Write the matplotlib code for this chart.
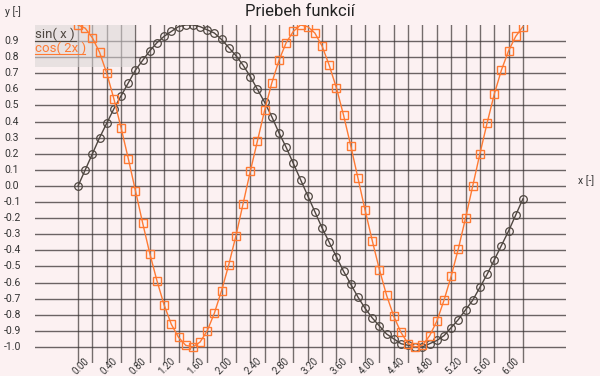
import matplotlib.pyplot as plt
from matplotlib.transforms import blended_transform_factory
from matplotlib.lines import Line2D

# Data: x = 0.0 .. 6.2 step 0.1
x = [round(0.1 * i, 1) for i in range(63)]
sin_x = [0.00, 0.10, 0.20, 0.30, 0.39, 0.48, 0.56, 0.64, 0.72, 0.78,
         0.84, 0.89, 0.93, 0.96, 0.99, 1.00, 1.00, 0.99, 0.97, 0.95,
         0.91, 0.86, 0.81, 0.75, 0.68, 0.60, 0.52, 0.43, 0.33, 0.24,
         0.14, 0.04, -0.06, -0.16, -0.26, -0.35, -0.44, -0.53, -0.61, -0.69,
         -0.76, -0.82, -0.87, -0.92, -0.95, -0.98, -0.99, -1.00, -1.00, -0.98,
         -0.96, -0.93, -0.88, -0.83, -0.77, -0.71, -0.63, -0.55, -0.46, -0.37,
         -0.28, -0.18, -0.08]
cos_2x = [1.00, 0.98, 0.92, 0.83, 0.70, 0.54, 0.36, 0.17, -0.03, -0.23,
          -0.42, -0.59, -0.74, -0.86, -0.94, -0.99, -1.00, -0.97, -0.90, -0.79,
          -0.65, -0.49, -0.31, -0.11, 0.09, 0.28, 0.47, 0.64, 0.78, 0.89,
          0.96, 1.00, 0.99, 0.95, 0.87, 0.75, 0.61, 0.44, 0.25, 0.05,
          -0.15, -0.34, -0.52, -0.68, -0.81, -0.91, -0.98, -1.00, -0.99, -0.93,
          -0.84, -0.71, -0.56, -0.39, -0.20, 0.00, 0.20, 0.39, 0.57, 0.72,
          0.84, 0.93, 0.99]

x_grid = [round(0.2 * i, 1) for i in range(32)]
x_labels = [round(0.4 * i, 1) for i in range(16)]
y_ticks = [round(-1.0 + 0.1 * i, 1) for i in range(20)]

bg = "#fcf1f2"
sin_col = "#4f4741"
cos_col = "#ff7a33"
plt.rcParams["font.family"] = ["Roboto", "DejaVu Sans"]

fig = plt.figure(figsize=(6, 3.76), dpi=100, facecolor=bg)
ax = fig.add_axes([35 / 600, 13 / 376, 531 / 600, 338 / 376])
ax.set_facecolor(bg)
ax.set_xlim(-0.6, 6.8)
ax.set_ylim(-1.1, 1.0)
for s in ax.spines.values():
    s.set_visible(False)
ax.set_xticks([])
ax.set_yticks([])

# grid
for xv in x_grid:
    ax.axvline(xv, color="#3a3434", lw=1.0, alpha=0.7, zorder=1)
for yv in y_ticks:
    ax.axhline(yv, color="#3a3434", lw=1.0, alpha=0.75, zorder=1)

# y tick labels, left aligned at the figure edge
ytrans = blended_transform_factory(fig.transFigure, ax.transData)
for yv in y_ticks:
    ax.text(4 / 600, yv, "%.1f" % yv, transform=ytrans, fontsize=7.5,
            color="#333333", ha="left", va="center")

# x tick labels, rotated
for xv in x_labels:
    ax.text(xv + 0.08, -1.055, "%.2f" % xv, fontsize=7, color="#333333",
            rotation=45, ha="right", va="top", rotation_mode="anchor")

# legend shading
ax.axvspan(-0.6, 0.8, ymin=(0.74 + 1.1) / 2.1, ymax=1.0, color="#d8d4d4",
           alpha=0.55, lw=0, zorder=2)

# series
ax.plot(x, sin_x, color=sin_col, lw=1.0, marker="o", ms=5.5, mfc="none",
        mec=sin_col, mew=0.9, zorder=3)
ax.plot(x, cos_2x, color=cos_col, lw=1.0, marker="s", ms=6, mfc="none",
        mec=cos_col, mew=1.0, zorder=4)

# legend text with underline
fig.text(35 / 600, 1 - 34 / 376, "sin( x )", fontsize=9.5, color=sin_col,
         ha="left", va="center")
fig.add_artist(Line2D([35 / 600, 76 / 600], [1 - 41 / 376, 1 - 41 / 376],
                      color=sin_col, lw=0.8))
fig.text(35 / 600, 1 - 48 / 376, "cos( 2x )", fontsize=9.5, color=cos_col,
         ha="left", va="center")
fig.add_artist(Line2D([35 / 600, 85 / 600], [1 - 54 / 376, 1 - 54 / 376],
                      color=cos_col, lw=0.8))

# titles / axis names
fig.text(0.5, 1 - 12 / 376, "Priebeh funkcií", fontsize=12, color="#222222",
         ha="center", va="center")
fig.text(5 / 600, 1 - 12 / 376, "y [-]", fontsize=7.5, color="#333333",
         ha="left", va="center")
fig.text(578 / 600, 1 - 181 / 376, "x [-]", fontsize=7.5, color="#333333",
         ha="left", va="center")

fig.savefig("out.png", dpi=100, facecolor=bg)
